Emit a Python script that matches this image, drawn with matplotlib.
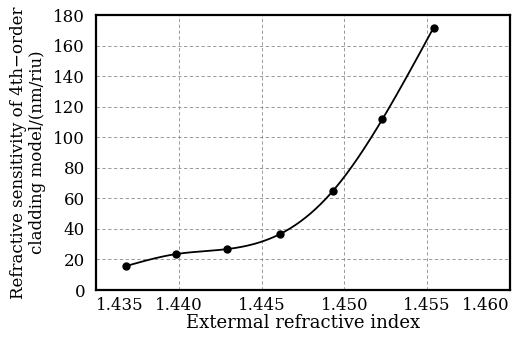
import numpy as np
import matplotlib.pyplot as plt

# data
n_ext = [1.4368, 1.4398, 1.4429, 1.4461, 1.4493, 1.4523, 1.4554]
sens = [15.7, 23.5, 26.8, 36.6, 64.8, 111.9, 172.0]
xticks = [1.435, 1.440, 1.445, 1.450, 1.455, 1.460]
yticks = [0, 20, 40, 60, 80, 100, 120, 140, 160, 180]


def natural_spline(x, y, num=300):
    # natural cubic spline through the points, for the smooth curve only
    x = np.asarray(x, float)
    y = np.asarray(y, float)
    n = len(x)
    h = np.diff(x)
    A = np.zeros((n, n))
    b = np.zeros(n)
    A[0, 0] = A[-1, -1] = 1
    for i in range(1, n - 1):
        A[i, i - 1] = h[i - 1]
        A[i, i] = 2 * (h[i - 1] + h[i])
        A[i, i + 1] = h[i]
        b[i] = 3 * ((y[i + 1] - y[i]) / h[i] - (y[i] - y[i - 1]) / h[i - 1])
    c = np.linalg.solve(A, b)
    xs = np.linspace(x[0], x[-1], num)
    ys = np.empty_like(xs)
    for k, xv in enumerate(xs):
        i = min(np.searchsorted(x, xv, side="right") - 1, n - 2)
        dx = xv - x[i]
        bi = (y[i + 1] - y[i]) / h[i] - h[i] * (2 * c[i] + c[i + 1]) / 3
        di = (c[i + 1] - c[i]) / (3 * h[i])
        ys[k] = y[i] + bi * dx + c[i] * dx ** 2 + di * dx ** 3
    return xs, ys


plt.rcParams['font.family'] = 'DejaVu Serif'
plt.rcParams['mathtext.fontset'] = 'dejavuserif'

fig, ax = plt.subplots(figsize=(5.17, 3.4), dpi=100)
fig.subplots_adjust(left=0.186, right=0.986, top=0.955, bottom=0.147)

xs, ys = natural_spline(n_ext, sens)
ax.plot(xs, ys, color='black', lw=1.3, zorder=3)
ax.plot(n_ext, sens, 'o', color='black', ms=5, zorder=4)

ax.set_xlim(1.435, 1.460)
ax.set_ylim(0, 180)
ax.set_xticks(xticks)
ax.set_xticklabels([f"{t:.3f}" for t in xticks])
ax.set_yticks(yticks)
ax.tick_params(direction='in', length=0, labelsize=12)
ax.tick_params(axis='y', pad=8)
ax.tick_params(axis='x', pad=5)
labs = ax.get_xticklabels()
labs[0].set_ha('left')
labs[-1].set_ha('right')
ax.grid(True, color='#8a8a8a', ls=(0, (4, 3)), lw=0.6)

for s in ax.spines.values():
    s.set_linewidth(1.6)

ax.set_xlabel('Extermal refractive index', fontsize=13, labelpad=0)
ax.set_ylabel('Refractive sensitivity of 4th\u2212order\ncladding model/(nm/riu)',
              fontsize=12, labelpad=5, linespacing=1.2)

fig.savefig('out.png', dpi=100)
